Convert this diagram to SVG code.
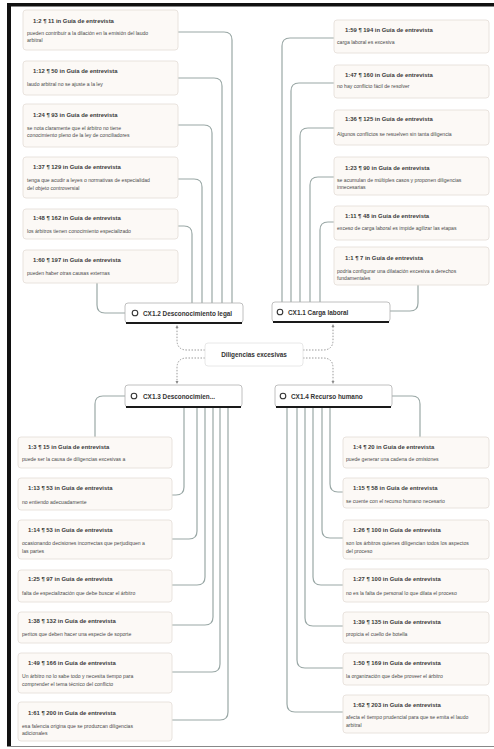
<svg xmlns="http://www.w3.org/2000/svg" width="494" height="749" viewBox="0 0 494 749">
<style>
.card{fill:#fcf9f6;stroke:#e6e0da;stroke-width:0.9}
.t{font-family:"Liberation Sans",Arial,sans-serif;font-size:5.9px;font-weight:bold;fill:#3a3a3a}
.b{font-family:"Liberation Sans",Arial,sans-serif;font-size:5.1px;fill:#4a4a4a}
.c{fill:none;stroke:#9aa8a6;stroke-width:1.2}
.d{fill:none;stroke:#9a9a9a;stroke-width:1;stroke-dasharray:1.5 1.5}
.node{fill:#fff;stroke:#b0b0b0;stroke-width:0.8}
.nb{stroke:#1a1a1a;stroke-width:2.2}
.nt{font-family:"Liberation Sans",Arial,sans-serif;font-size:6.4px;font-weight:bold;fill:#333}
.ic{fill:#fff;stroke:#333;stroke-width:1.1}
</style>
<defs>
<marker id="ar" markerWidth="4" markerHeight="4" refX="2" refY="2" orient="auto" markerUnits="userSpaceOnUse">
<path d="M0,0.5 L3,2 L0,3.5 Z" fill="#8a8a8a"/>
</marker>
</defs>
<rect width="494" height="749" fill="#fff"/>
<rect x="7" y="3" width="487" height="3.5" fill="#111"/>
<rect x="7" y="3" width="4" height="744" fill="#111"/>
<line x1="7" y1="746.5" x2="494" y2="746.5" stroke="#888" stroke-width="1.2"/>

<g id="connectors">
<path class="c" d="M178 32 H224 Q232 32 232 40 V303"/>
<path class="c" d="M178 78 H214 Q222 78 222 86 V303"/>
<path class="c" d="M178 125 H204 Q212 125 212 133 V303"/>
<path class="c" d="M178 179 H194 Q202 179 202 187 V303"/>
<path class="c" d="M178 226 H184 Q192 226 192 234 V303"/>
<path class="c" d="M97 283 V305 Q97 313 105 313 H125"/>

<path class="c" d="M334 38 H290 Q282 38 282 46 V302"/>
<path class="c" d="M334 83 H299 Q291 83 291 91 V302"/>
<path class="c" d="M334 128 H308 Q300 128 300 136 V302"/>
<path class="c" d="M334 177 H318 Q310 177 310 185 V302"/>
<path class="c" d="M334 222 H328 Q320 222 320 230 V302"/>
<path class="c" d="M418 285 V303 Q418 311 410 311 H390"/>

<path class="c" d="M95 437 V404 Q95 396 103 396 H125"/>
<path class="c" d="M172 495 H176 Q184 495 184 487 V408"/>
<path class="c" d="M172 539 H189 Q197 539 197 531 V408"/>
<path class="c" d="M172 585 H197 Q205 585 205 577 V408"/>
<path class="c" d="M172 625 H205 Q213 625 213 617 V408"/>
<path class="c" d="M172 672 H212 Q220 672 220 664 V408"/>
<path class="c" d="M172 720 H220 Q228 720 228 712 V408"/>

<path class="c" d="M392 396 H412 Q420 396 420 404 V437"/>
<path class="c" d="M330 407 V484 Q330 492 338 492 H343"/>
<path class="c" d="M322 407 V530 Q322 538 330 538 H343"/>
<path class="c" d="M313 407 V577 Q313 585 321 585 H343"/>
<path class="c" d="M305 407 V618 Q305 626 313 626 H343"/>
<path class="c" d="M297 407 V660 Q297 668 305 668 H343"/>
<path class="c" d="M287 407 V704 Q287 712 295 712 H343"/>

<path class="d" d="M205 350 H187 Q177 350 177 340 V326" marker-end="url(#ar)"/>
<path class="d" d="M205 358 H187 Q177 358 177 368 V383" marker-end="url(#ar)"/>
<path class="d" d="M303 350 H323 Q333 350 333 340 V325" marker-end="url(#ar)"/>
<path class="d" d="M303 358 H323 Q333 358 333 368 V383" marker-end="url(#ar)"/>
</g>

<g id="center">
<rect x="205" y="343" width="98" height="23" rx="3" fill="#fff" stroke="#e2e2e2" stroke-width="0.8"/>
<text class="nt" x="254" y="357" text-anchor="middle">Diligencias excesivas</text>
</g>

<g id="n-cx12">
<rect class="node" x="125" y="303" width="118" height="20" rx="3"/>
<line class="nb" x1="126" y1="323" x2="242" y2="323"/>
<circle class="ic" cx="135" cy="313" r="2.8"/>
<text class="nt" x="143" y="315.5">CX1.2 Desconocimiento legal</text>
</g>
<g id="n-cx11">
<rect class="node" x="272" y="302" width="118" height="20" rx="3"/>
<line class="nb" x1="273" y1="322" x2="389" y2="322"/>
<circle class="ic" cx="280" cy="312" r="2.8"/>
<text class="nt" x="288" y="314.5">CX1.1 Carga laboral</text>
</g>
<g id="n-cx13">
<rect class="node" x="125" y="385" width="117" height="22" rx="3"/>
<line class="nb" x1="126" y1="407" x2="241" y2="407"/>
<circle class="ic" cx="134" cy="396" r="2.8"/>
<text class="nt" x="143" y="398.5">CX1.3 Desconocimien...</text>
</g>
<g id="n-cx14">
<rect class="node" x="275" y="385" width="117" height="22" rx="3"/>
<line class="nb" x1="276" y1="407" x2="391" y2="407"/>
<circle class="ic" cx="283" cy="396" r="2.8"/>
<text class="nt" x="291" y="398.5">CX1.4 Recurso humano</text>
</g>

<!-- top-left cards -->
<g id="q-1-2"><rect class="card" x="23" y="10" width="155" height="40" rx="3"/>
<text class="t" x="33" y="23">1:2 ¶ 11 in Guía de entrevista</text>
<text class="b" x="27" y="35">pueden contribuir a la dilación en la emisión del laudo</text>
<text class="b" x="27" y="42">arbitral</text></g>
<g id="q-1-12"><rect class="card" x="23" y="61" width="155" height="34" rx="3"/>
<text class="t" x="33" y="73">1:12 ¶ 50 in Guía de entrevista</text>
<text class="b" x="27" y="86">laudo arbitral no se ajuste a la ley</text></g>
<g id="q-1-24"><rect class="card" x="23" y="104" width="155" height="43" rx="3"/>
<text class="t" x="33" y="117">1:24 ¶ 93 in Guía de entrevista</text>
<text class="b" x="27" y="130">se nota claramente que el árbitro no tiene</text>
<text class="b" x="27" y="137">conocimiento pleno de la ley de conciliadores</text></g>
<g id="q-1-37"><rect class="card" x="23" y="157" width="155" height="41" rx="3"/>
<text class="t" x="33" y="169">1:37 ¶ 129 in Guía de entrevista</text>
<text class="b" x="27" y="182">tenga que acudir a leyes o normativas de especialidad</text>
<text class="b" x="27" y="190">del objeto controversial</text></g>
<g id="q-1-48"><rect class="card" x="23" y="209" width="155" height="30" rx="3"/>
<text class="t" x="33" y="220">1:48 ¶ 162 in Guía de entrevista</text>
<text class="b" x="27" y="233">los árbitros tienen conocimiento especializado</text></g>
<g id="q-1-60"><rect class="card" x="23" y="250" width="155" height="33" rx="3"/>
<text class="t" x="33" y="262">1:60 ¶ 197 in Guía de entrevista</text>
<text class="b" x="27" y="275">pueden haber otras causas externas</text></g>

<!-- top-right cards -->
<g id="q-1-59"><rect class="card" x="334" y="20" width="155" height="33" rx="3"/>
<text class="t" x="345" y="32">1:59 ¶ 194 in Guía de entrevista</text>
<text class="b" x="337" y="44">carga laboral es excesiva</text></g>
<g id="q-1-47"><rect class="card" x="334" y="65" width="155" height="33" rx="3"/>
<text class="t" x="345" y="77">1:47 ¶ 160 in Guía de entrevista</text>
<text class="b" x="337" y="88">no hay conflicto fácil de resolver</text></g>
<g id="q-1-36"><rect class="card" x="334" y="110" width="155" height="35" rx="3"/>
<text class="t" x="345" y="121">1:36 ¶ 125 in Guía de entrevista</text>
<text class="b" x="337" y="136">Algunos conflictos se resuelven sin tanta diligencia</text></g>
<g id="q-1-23"><rect class="card" x="334" y="157" width="155" height="38" rx="3"/>
<text class="t" x="345" y="170">1:23 ¶ 90 in Guía de entrevista</text>
<text class="b" x="337" y="182">se acumulan de múltiples casos y proponen diligencias</text>
<text class="b" x="337" y="189">innecesarias</text></g>
<g id="q-1-11"><rect class="card" x="334" y="206" width="155" height="34" rx="3"/>
<text class="t" x="345" y="218">1:11 ¶ 48 in Guía de entrevista</text>
<text class="b" x="337" y="230">exceso de carga laboral es impide agilizar las etapas</text></g>
<g id="q-1-1"><rect class="card" x="334" y="247" width="155" height="38" rx="3"/>
<text class="t" x="345" y="260">1:1 ¶ 7 in Guía de entrevista</text>
<text class="b" x="337" y="273">podría configurar una dilatación excesiva a derechos</text>
<text class="b" x="337" y="280">fundamentales</text></g>

<!-- bottom-left cards -->
<g id="q-1-3"><rect class="card" x="18" y="437" width="154" height="31" rx="3"/>
<text class="t" x="28" y="449">1:3 ¶ 15 in Guía de entrevista</text>
<text class="b" x="22" y="461">puede ser la causa de diligencias excesivas a</text></g>
<g id="q-1-13"><rect class="card" x="18" y="478" width="154" height="32" rx="3"/>
<text class="t" x="28" y="490">1:13 ¶ 53 in Guía de entrevista</text>
<text class="b" x="22" y="504">no entiendo adecuadamente</text></g>
<g id="q-1-14"><rect class="card" x="18" y="520" width="154" height="39" rx="3"/>
<text class="t" x="28" y="532">1:14 ¶ 53 in Guía de entrevista</text>
<text class="b" x="22" y="545">ocasionando decisiones incorrectas que perjudiquen a</text>
<text class="b" x="22" y="553">las partes</text></g>
<g id="q-1-25"><rect class="card" x="18" y="570" width="154" height="32" rx="3"/>
<text class="t" x="28" y="581">1:25 ¶ 97 in Guía de entrevista</text>
<text class="b" x="22" y="595">falta de especialización que debe buscar el árbitro</text></g>
<g id="q-1-38"><rect class="card" x="18" y="612" width="154" height="31" rx="3"/>
<text class="t" x="28" y="623">1:38 ¶ 132 in Guía de entrevista</text>
<text class="b" x="22" y="636">peritos que deben hacer una especie de soporte</text></g>
<g id="q-1-49"><rect class="card" x="18" y="653" width="154" height="40" rx="3"/>
<text class="t" x="28" y="665">1:49 ¶ 166 in Guía de entrevista</text>
<text class="b" x="22" y="678">Un árbitro no lo sabe todo y necesita tiempo para</text>
<text class="b" x="22" y="686">comprender el tema técnico del conflicto</text></g>
<g id="q-1-61"><rect class="card" x="18" y="702" width="154" height="39" rx="3"/>
<text class="t" x="28" y="715">1:61 ¶ 200 in Guía de entrevista</text>
<text class="b" x="22" y="728">esa falencia origina que se produzcan diligencias</text>
<text class="b" x="22" y="735">adicionales</text></g>

<!-- bottom-right cards -->
<g id="q-1-4"><rect class="card" x="343" y="437" width="146" height="31" rx="3"/>
<text class="t" x="353" y="449">1:4 ¶ 20 in Guía de entrevista</text>
<text class="b" x="346" y="461">puede generar una cadena de omisiones</text></g>
<g id="q-1-15"><rect class="card" x="343" y="478" width="146" height="30" rx="3"/>
<text class="t" x="353" y="490">1:15 ¶ 58 in Guía de entrevista</text>
<text class="b" x="346" y="503">se cuente con el recurso humano necesario</text></g>
<g id="q-1-26"><rect class="card" x="343" y="520" width="146" height="39" rx="3"/>
<text class="t" x="353" y="532">1:26 ¶ 100 in Guía de entrevista</text>
<text class="b" x="346" y="545">son los árbitros quienes diligencian todos los aspectos</text>
<text class="b" x="346" y="553">del proceso</text></g>
<g id="q-1-27"><rect class="card" x="343" y="569" width="146" height="33" rx="3"/>
<text class="t" x="353" y="581">1:27 ¶ 100 in Guía de entrevista</text>
<text class="b" x="346" y="595">no es la falta de personal lo que dilata el proceso</text></g>
<g id="q-1-39"><rect class="card" x="343" y="612" width="146" height="31" rx="3"/>
<text class="t" x="353" y="624">1:39 ¶ 135 in Guía de entrevista</text>
<text class="b" x="346" y="636">propicia el cuello de botella</text></g>
<g id="q-1-50"><rect class="card" x="343" y="653" width="146" height="32" rx="3"/>
<text class="t" x="353" y="665">1:50 ¶ 169 in Guía de entrevista</text>
<text class="b" x="346" y="678">la organización que debe proveer el árbitro</text></g>
<g id="q-1-62"><rect class="card" x="343" y="695" width="146" height="38" rx="3"/>
<text class="t" x="353" y="707">1:62 ¶ 203 in Guía de entrevista</text>
<text class="b" x="346" y="719">afecta el tiempo prudencial para que se emita el laudo</text>
<text class="b" x="346" y="727">arbitral</text></g>
</svg>
